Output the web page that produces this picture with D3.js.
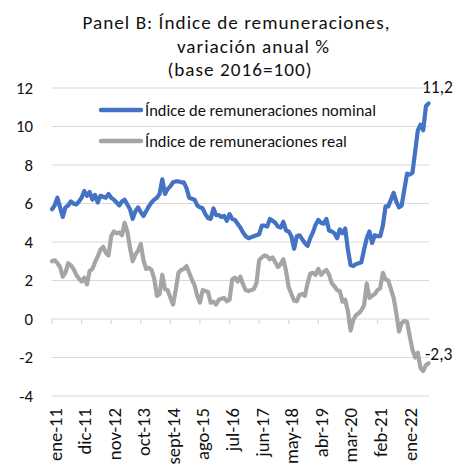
<!DOCTYPE html>
<html><head><meta charset="utf-8">
<script src="https://cdn.jsdelivr.net/npm/d3@7"></script>
<style>
html,body{margin:0;padding:0;background:#fff;}
svg{display:block;font-family:Carlito,Lato,"Open Sans",sans-serif;}
</style></head>
<body><svg id="c" width="456" height="465"></svg>
<script>
const titleLines = ["Panel B: Índice de remuneraciones,", "variación anual %", "(base 2016=100)"];
const seriesNames = ["Índice de remuneraciones nominal", "Índice de remuneraciones real"];
const tickLabels = ["ene-11","dic-11","nov-12","oct-13","sept-14","ago-15","jul-16","jun-17","may-18","abr-19","mar-20","feb-21","ene-22"];
const yTicks = [-4,-2,0,2,4,6,8,10,12];
const endLabels = ["11,2", "-2,3"];
// monthly, ene-2011 .. sept-2022
const nominal = [
5.7,5.9,6.3,5.8,5.3,5.8,5.9,6.1,6.0,5.95,6.1,6.3,
6.65,6.4,6.6,6.2,6.45,6.05,6.4,6.35,6.3,6.5,6.3,6.2,
6.05,5.9,6.1,6.2,5.95,5.7,5.2,5.6,5.8,5.55,5.35,5.6,
5.85,6.05,6.2,6.3,6.5,7.25,6.5,6.75,6.9,7.1,7.15,7.15,
7.1,7.1,6.8,6.3,6.25,6.2,5.9,5.8,5.75,5.45,5.25,5.2,
5.75,5.4,5.4,5.3,5.35,5.1,5.45,5.2,5.15,4.95,4.75,4.5,
4.3,4.2,4.25,4.3,4.35,4.4,4.85,4.85,4.8,5.2,5.1,5.0,
4.8,4.75,5.05,4.6,4.55,4.3,3.65,4.3,4.35,4.15,3.95,3.8,
4.2,4.5,4.9,5.15,5.0,4.95,5.2,4.6,4.55,4.45,4.2,4.65,
4.45,4.7,3.6,2.8,2.75,2.85,2.9,2.95,3.6,4.2,4.55,3.95,
4.35,4.3,4.3,4.85,5.85,5.85,6.2,6.55,6.1,5.8,5.9,6.75,
7.55,7.5,7.6,8.7,9.8,10.1,9.8,11.05,11.2];
const real = [
3.0,3.05,2.9,2.7,2.2,2.4,2.9,2.8,2.6,2.3,2.1,1.95,
2.15,1.8,2.5,2.6,2.95,3.25,3.6,3.75,3.45,3.3,4.3,4.55,
4.45,4.5,4.35,5.0,4.55,3.7,3.0,3.35,3.55,3.9,3.05,2.6,
2.65,2.55,2.1,1.2,1.3,2.3,1.55,1.5,1.1,0.75,1.5,2.4,
2.55,2.6,2.75,2.4,2.05,1.75,1.2,0.85,1.5,1.45,1.4,0.85,
0.9,0.75,1.0,1.05,1.1,0.92,1.0,2.05,2.15,1.95,2.2,1.8,
1.5,1.45,1.5,1.55,1.85,3.05,3.2,3.3,3.25,3.1,3.2,2.95,
2.7,2.85,3.1,2.5,1.65,1.3,0.95,0.92,1.25,1.3,1.2,1.85,
2.35,2.4,2.3,2.6,2.3,2.45,2.55,2.3,1.85,1.7,1.5,1.44,
0.9,1.0,0.4,-0.6,-0.05,0.2,0.3,0.45,0.7,1.85,1.1,1.2,
1.3,1.5,1.6,2.4,2.05,2.0,1.55,1.1,0.3,-0.65,-0.2,-0.1,
-0.15,-0.9,-1.6,-2.0,-1.75,-2.55,-2.7,-2.4,-2.3];
const colors = ["#4472C4", "#A5A5A5"];

const svg = d3.select("#c");
const n = nominal.length;
const x = d3.scaleLinear().domain([0, n - 1]).range([52, 428.6]);
const y = d3.scaleLinear().domain([-4, 12]).range([396, 88]);

function measure(sample, size, spacing) {
  const t = svg.append("text").attr("font-size", size).attr("letter-spacing", spacing || 0).text(sample);
  const w = t.node().getComputedTextLength();
  t.remove();
  return w;
}
// size a group of texts so that a sample string has a target width
function fitSize(sample, target, base) {
  const w = measure(sample, base);
  return w > 0 ? base * target / w : base;
}
const titleSize = 19.2;
const titleW = measure(titleLines[0], titleSize);
const titleSpacing = Math.max(0, (307 - titleW) / (titleLines[0].length - 1));
const ySize = fitSize("10", 17, 16);
const xSize = fitSize("ene-11", 53, 16);
const legSize = fitSize(seriesNames[0], 231, 16);
const endSize = fitSize(endLabels[0], 31, 16);

// title
const tPos = [[236.5, 29], [253.5, 52.5], [240, 76]];
titleLines.forEach((t, i) => {
  svg.append("text").attr("x", tPos[i][0]).attr("y", tPos[i][1])
    .attr("text-anchor", "middle").attr("font-size", titleSize)
    .attr("letter-spacing", titleSpacing).attr("fill", "#111").text(t);
});

// gridlines
svg.append("g").selectAll("line").data(yTicks).join("line")
  .attr("x1", 52).attr("x2", 429).attr("y1", d => y(d)).attr("y2", d => y(d))
  .attr("stroke", "#d9d9d9").attr("stroke-width", 1.2);

// y labels
svg.append("g").selectAll("text").data(yTicks).join("text")
  .attr("x", 33).attr("y", d => y(d)).attr("dy", "0.35em").attr("text-anchor", "end")
  .attr("font-size", ySize).attr("fill", "#111").text(d => d);

// x ticks on zero line
const tickIdx = tickLabels.map((d, i) => i * 11);
svg.append("g").selectAll("line").data(tickIdx).join("line")
  .attr("x1", d => x(d)).attr("x2", d => x(d)).attr("y1", y(0)).attr("y2", y(0) + 5)
  .attr("stroke", "#d9d9d9").attr("stroke-width", 1.2);

// x labels
svg.append("g").selectAll("text").data(tickLabels).join("text")
  .attr("transform", (d, i) => `translate(${x(tickIdx[i]) + 3},408) rotate(-90)`)
  .attr("dy", "0.35em").attr("text-anchor", "end").attr("font-size", xSize).attr("fill", "#111")
  .text(d => d);

// lines
const line = d3.line().x((d, i) => x(i)).y(d => y(d)).curve(d3.curveLinear);
[real, nominal].forEach((s, k) => {
  svg.append("path").datum(s).attr("d", line).attr("fill", "none")
    .attr("stroke", colors[1 - k]).attr("stroke-width", 4.2).attr("stroke-linejoin", "round").attr("stroke-linecap", "round");
});

// legend
const legY = [110, 141];
seriesNames.forEach((name, i) => {
  svg.append("line").attr("x1", 101).attr("x2", 141).attr("y1", legY[i]).attr("y2", legY[i])
    .attr("stroke", colors[i]).attr("stroke-width", 4.5).attr("stroke-linecap", "round");
  svg.append("text").attr("x", 145).attr("y", legY[i]).attr("dy", "0.35em")
    .attr("font-size", legSize).attr("fill", "#111").text(name);
});

// end labels
svg.append("text").attr("x", 422).attr("y", 93).attr("font-size", endSize).attr("fill", "#111").text(endLabels[0]);
svg.append("text").attr("x", 425).attr("y", 354).attr("dy", "0.35em").attr("font-size", endSize).attr("fill", "#111").text(endLabels[1]);
</script></body></html>
